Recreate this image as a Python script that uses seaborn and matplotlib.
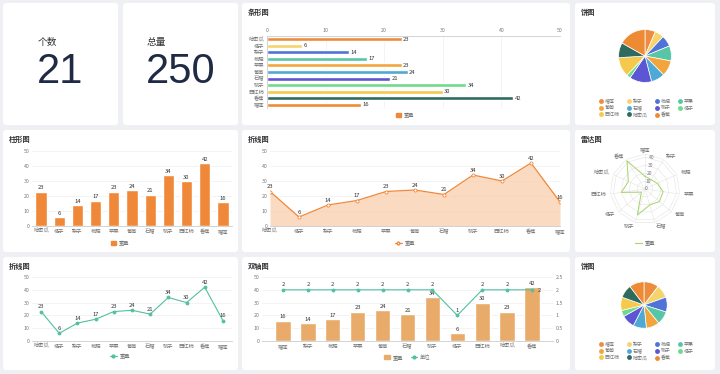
import matplotlib.pyplot as plt
import matplotlib.patches as mpatches
from matplotlib.lines import Line2D
import numpy as np
import pandas as pd
import seaborn as sns

# 数据
fruits = ['哈密瓜', '橘子', '梨子', '枇杷', '苹果', '葡萄', '石榴', '桃子', '西红柿', '香蕉', '榴莲']
weights = [23, 6, 14, 17, 23, 24, 21, 34, 30, 42, 16]

# 饼图 / 雷达图 / 双轴图 用的顺序
fruits_b = ['榴莲', '梨子', '枇杷', '苹果', '葡萄', '石榴', '桃子', '橘子', '西红柿', '哈密瓜', '香蕉']
weights_b = [16, 14, 17, 23, 24, 21, 34, 6, 30, 23, 42]
units_b = [2, 2, 2, 2, 2, 2, 2, 1, 2, 2, 2]
pie2_values = [19, 17, 19, 17, 17, 17, 17, 8, 17, 17, 19]

kpi_labels = ['个数', '总量']
kpi_values = ['21', '250']

palette = ['#ec8c3f', '#f6d46c', '#4f73d6', '#58c6a6', '#f2a53c', '#4ea9d4',
           '#5c55d4', '#6fd98c', '#f5c94c', '#2f6a5e', '#ef8a34']
orange = '#f0883a'
sand = '#e8ab6a'
teal = '#52c0a2'
radar_green = '#a6d36a'

sns.set_theme(style='white')
plt.rcParams['font.family'] = ['Noto Sans CJK SC', 'DejaVu Sans']
plt.rcParams['axes.unicode_minus'] = False

W, H = 720, 374
fig = plt.figure(figsize=(W / 100, H / 100), dpi=100)
fig.patch.set_facecolor('#eef0f3')

TICK = 3.8
LAB = 4.2
GRAY = '#777777'


def rect(x, y, w, h):
    return [x / W, 1 - (y + h) / H, w / W, h / H]


def card(x, y, w, h, title=None):
    p = mpatches.FancyBboxPatch(((x) / 100, (H - y - h) / 100), w / 100, h / 100,
                                boxstyle='round,pad=0,rounding_size=0.03',
                                transform=fig.dpi_scale_trans, facecolor='white',
                                edgecolor='none', zorder=-5)
    fig.patches.append(p)
    if title:
        fig.text((x + 6) / W, 1 - (y + 9) / H, title, fontsize=5.2, color='#333333',
                 va='center', ha='left', fontweight='bold')


def fx(x):
    return x / W


def fy(y):
    return 1 - y / H


def style_cat_axes(ax, ymax=50):
    ax.set_ylim(0, ymax)
    ax.set_yticks(range(0, ymax + 1, 10))
    ax.grid(axis='y', color='#eeeeee', linewidth=0.5)
    ax.grid(axis='x', visible=False)
    for s in ['top', 'right', 'left']:
        ax.spines[s].set_visible(False)
    ax.spines['bottom'].set_color('#cccccc')
    ax.spines['bottom'].set_linewidth(0.6)
    ax.tick_params(axis='both', labelsize=TICK, colors=GRAY, length=0, pad=2)
    ax.set_xlabel('')
    ax.set_ylabel('')
    ax.set_facecolor('none')


# ---------- 第一行 ----------
card(3, 3, 115, 122)
card(123, 3, 115, 122)
for i, (lab, val) in enumerate(zip(kpi_labels, kpi_values)):
    x0 = 38 + i * 109
    fig.text(fx(x0), fy(42), lab, fontsize=7, color='#333333', va='center', ha='left')
    fig.text(fx(x0 - 1), fy(72), val, fontsize=30, color='#1f2a44', va='center', ha='left',
             family='Liberation Sans')

# 条形图
card(242, 3, 328, 122, '条形图')
ax = fig.add_axes(rect(267, 36, 293, 72))
df_h = pd.DataFrame({'fruit': fruits, 'weight': weights})
sns.barplot(data=df_h, x='weight', y='fruit', hue='fruit', palette=palette,
            legend=False, ax=ax, width=0.62, saturation=1)
ax.set_xlim(0, 50)
ax.set_xticks(range(0, 51, 10))
ax.xaxis.tick_top()
ax.grid(axis='x', color='#eeeeee', linewidth=0.5)
for s in ['bottom', 'right']:
    ax.spines[s].set_visible(False)
ax.spines['top'].set_color('#cccccc')
ax.spines['left'].set_color('#cccccc')
ax.spines['top'].set_linewidth(0.6)
ax.spines['left'].set_linewidth(0.6)
ax.tick_params(axis='both', labelsize=TICK, colors=GRAY, length=0, pad=2)
ax.set_xlabel('')
ax.set_ylabel('')
ax.set_facecolor('none')
for c in ax.containers:
    ax.bar_label(c, fontsize=LAB, color='#333333', padding=1)
fig.legend(handles=[mpatches.Patch(color=orange, label='重量')], loc='center',
           bbox_to_anchor=(fx(405), fy(115)), fontsize=TICK, frameon=False,
           handlelength=1.0, handleheight=0.8, handletextpad=0.5, labelcolor=GRAY)

# 饼图 1
card(575, 3, 140, 122, '饼图')
ax = fig.add_axes(rect(612, 23, 66, 66))
ax.pie(weights_b, colors=palette, startangle=90, counterclock=False,
       wedgeprops=dict(edgecolor='white', linewidth=0.5))
ax.set_aspect('equal')
order = [0, 4, 8, 1, 5, 9, 2, 6, 10, 3, 7]
pie_handles = [Line2D([], [], marker='o', linestyle='none', markersize=3.5,
                      markerfacecolor=palette[i], markeredgecolor='none',
                      label=fruits_b[i]) for i in order]


def pie_legend(cy):
    fig.legend(handles=pie_handles, loc='center', bbox_to_anchor=(fx(646), fy(cy)),
               ncol=4, fontsize=3.6, frameon=False, handlelength=1.0,
               handletextpad=0.4, columnspacing=1.2, labelspacing=0.35,
               labelcolor=GRAY)


pie_legend(108)

# ---------- 第二行 ----------
# 柱形图
card(3, 130, 235, 122, '柱形图')
ax = fig.add_axes(rect(32, 151, 200, 75))
df_c = pd.DataFrame({'fruit': fruits, 'weight': weights})
sns.barplot(data=df_c, x='fruit', y='weight', color=orange, ax=ax, width=0.62,
            saturation=1)
style_cat_axes(ax)
for c in ax.containers:
    ax.bar_label(c, fontsize=LAB, color='#333333', padding=1)
fig.legend(handles=[mpatches.Patch(color=orange, label='重量')], loc='center',
           bbox_to_anchor=(fx(120), fy(243)), fontsize=TICK, frameon=False,
           handlelength=1.0, handleheight=0.8, handletextpad=0.5, labelcolor=GRAY)

# 折线图 (面积)
card(242, 130, 328, 122, '折线图')
ax = fig.add_axes(rect(270, 151, 290, 75))
xs = np.arange(len(fruits))
ax.fill_between(xs, weights, color='#f9cfac', alpha=0.75, linewidth=0)
sns.lineplot(x=xs, y=weights, color=orange, linewidth=0.9, marker='o', markersize=2.2,
             markerfacecolor='white', markeredgecolor=orange, markeredgewidth=0.6, ax=ax)
style_cat_axes(ax)
ax.set_xlim(0, len(fruits) - 1)
ax.set_xticks(xs)
ax.set_xticklabels(fruits)
for xi, yi in zip(xs, weights):
    ax.text(xi, yi + 1.5, str(yi), fontsize=LAB, color='#333333', ha='center', va='bottom')
fig.legend(handles=[Line2D([], [], color=orange, marker='o', markersize=2,
                           markerfacecolor='white', linewidth=0.8, label='重量')],
           loc='center', bbox_to_anchor=(fx(405), fy(243)), fontsize=TICK,
           frameon=False, handlelength=1.2, handletextpad=0.5, labelcolor=GRAY)

# 雷达图
card(575, 130, 140, 122, '雷达图')
ax = fig.add_axes(rect(610, 154, 70, 70), projection='polar')
n = len(fruits_b)
ang = np.linspace(0, 2 * np.pi, n, endpoint=False)
ax.set_theta_offset(np.pi / 2)
ax.set_theta_direction(-1)
ax.set_ylim(0, 44)
ax.grid(False)
ax.spines['polar'].set_visible(False)
ax.set_yticks([])
ax.set_xticks([])
ring_ang = np.append(ang, ang[0])
for r in [10, 20, 30, 40, 44]:
    ax.plot(ring_ang, [r] * len(ring_ang), color='#e4e4e4', linewidth=0.4)
for a in ang:
    ax.plot([a, a], [0, 44], color='#e4e4e4', linewidth=0.4)
for a, name in zip(ang, fruits_b):
    sx = np.sin(a)
    ha = 'center' if abs(sx) < 0.2 else ('left' if sx > 0 else 'right')
    ax.text(a, 49, name, fontsize=TICK, color=GRAY, ha=ha, va='center')
for r in [0, 10, 20, 30, 40]:
    ax.text(0.12, r, str(r), fontsize=3.6, color=GRAY, ha='left', va='center')
ax.plot(ring_ang, weights_b + weights_b[:1], color=radar_green, linewidth=0.7)
ax.set_facecolor('none')
fig.legend(handles=[Line2D([], [], color=radar_green, linewidth=0.8, label='重量')],
           loc='center', bbox_to_anchor=(fx(645), fy(243)), fontsize=TICK,
           frameon=False, handlelength=1.2, handletextpad=0.5, labelcolor=GRAY)

# ---------- 第三行 ----------
# 折线图
card(3, 257, 235, 113, '折线图')
ax = fig.add_axes(rect(32, 277, 200, 64))
sns.lineplot(x=xs, y=weights, color=teal, linewidth=0.8, marker='o', markersize=2,
             markeredgecolor=teal, ax=ax)
style_cat_axes(ax)
ax.set_xlim(-0.5, len(fruits) - 0.5)
ax.set_xticks(xs)
ax.set_xticklabels(fruits)
for xi, yi in zip(xs, weights):
    ax.text(xi, yi + 1.8, str(yi), fontsize=LAB, color='#333333', ha='center', va='bottom')
fig.legend(handles=[Line2D([], [], color=teal, marker='o', markersize=2,
                           linewidth=0.8, label='重量')],
           loc='center', bbox_to_anchor=(fx(120), fy(356)), fontsize=TICK,
           frameon=False, handlelength=1.2, handletextpad=0.5, labelcolor=GRAY)

# 双轴图
card(242, 257, 328, 113, '双轴图')
ax = fig.add_axes(rect(262, 277, 291, 64))
df_d = pd.DataFrame({'fruit': fruits_b, 'weight': weights_b, 'unit': units_b})
sns.barplot(data=df_d, x='fruit', y='weight', color=sand, ax=ax, width=0.62,
            saturation=1)
style_cat_axes(ax)
for c in ax.containers:
    ax.bar_label(c, fontsize=LAB, color='#333333', padding=1)
ax2 = ax.twinx()
sns.lineplot(x=np.arange(len(fruits_b)), y=units_b, color=teal, linewidth=0.8,
             marker='o', markersize=2, markeredgecolor=teal, ax=ax2)
ax2.set_ylim(0, 2.5)
ax2.set_yticks([0, 0.5, 1, 1.5, 2, 2.5])
ax2.set_yticklabels(['0', '0.5', '1', '1.5', '2', '2.5'])
for s in ['top', 'right', 'left', 'bottom']:
    ax2.spines[s].set_visible(False)
ax2.tick_params(axis='y', labelsize=TICK, colors=GRAY, length=0, pad=2)
ax2.set_ylabel('')
ax2.grid(False)
for xi, yi in enumerate(units_b):
    if xi == len(units_b) - 1:
        # 与柱子标签重叠处, 稍微右移
        ax2.text(xi + 0.22, yi - 0.02, str(yi), fontsize=LAB, color='#333333',
                 ha='left', va='center')
    else:
        ax2.text(xi, yi + 0.09, str(yi), fontsize=LAB, color='#333333',
                 ha='center', va='bottom')
fig.legend(handles=[mpatches.Patch(color=sand, label='重量'),
                    Line2D([], [], color=teal, marker='o', markersize=2,
                           linewidth=0.8, label='单位')],
           loc='center', bbox_to_anchor=(fx(407), fy(357)), ncol=2, fontsize=TICK,
           frameon=False, handlelength=1.2, handleheight=0.8, handletextpad=0.5,
           columnspacing=1.5, labelcolor=GRAY)

# 饼图 2
card(575, 257, 140, 113, '饼图')
ax = fig.add_axes(rect(615, 276, 58, 58))
ax.pie(pie2_values, colors=palette, startangle=90, counterclock=False,
       wedgeprops=dict(edgecolor='white', linewidth=0.5))
ax.set_aspect('equal')
pie_legend(351)

fig.savefig('out.png', dpi=100, facecolor=fig.get_facecolor())
